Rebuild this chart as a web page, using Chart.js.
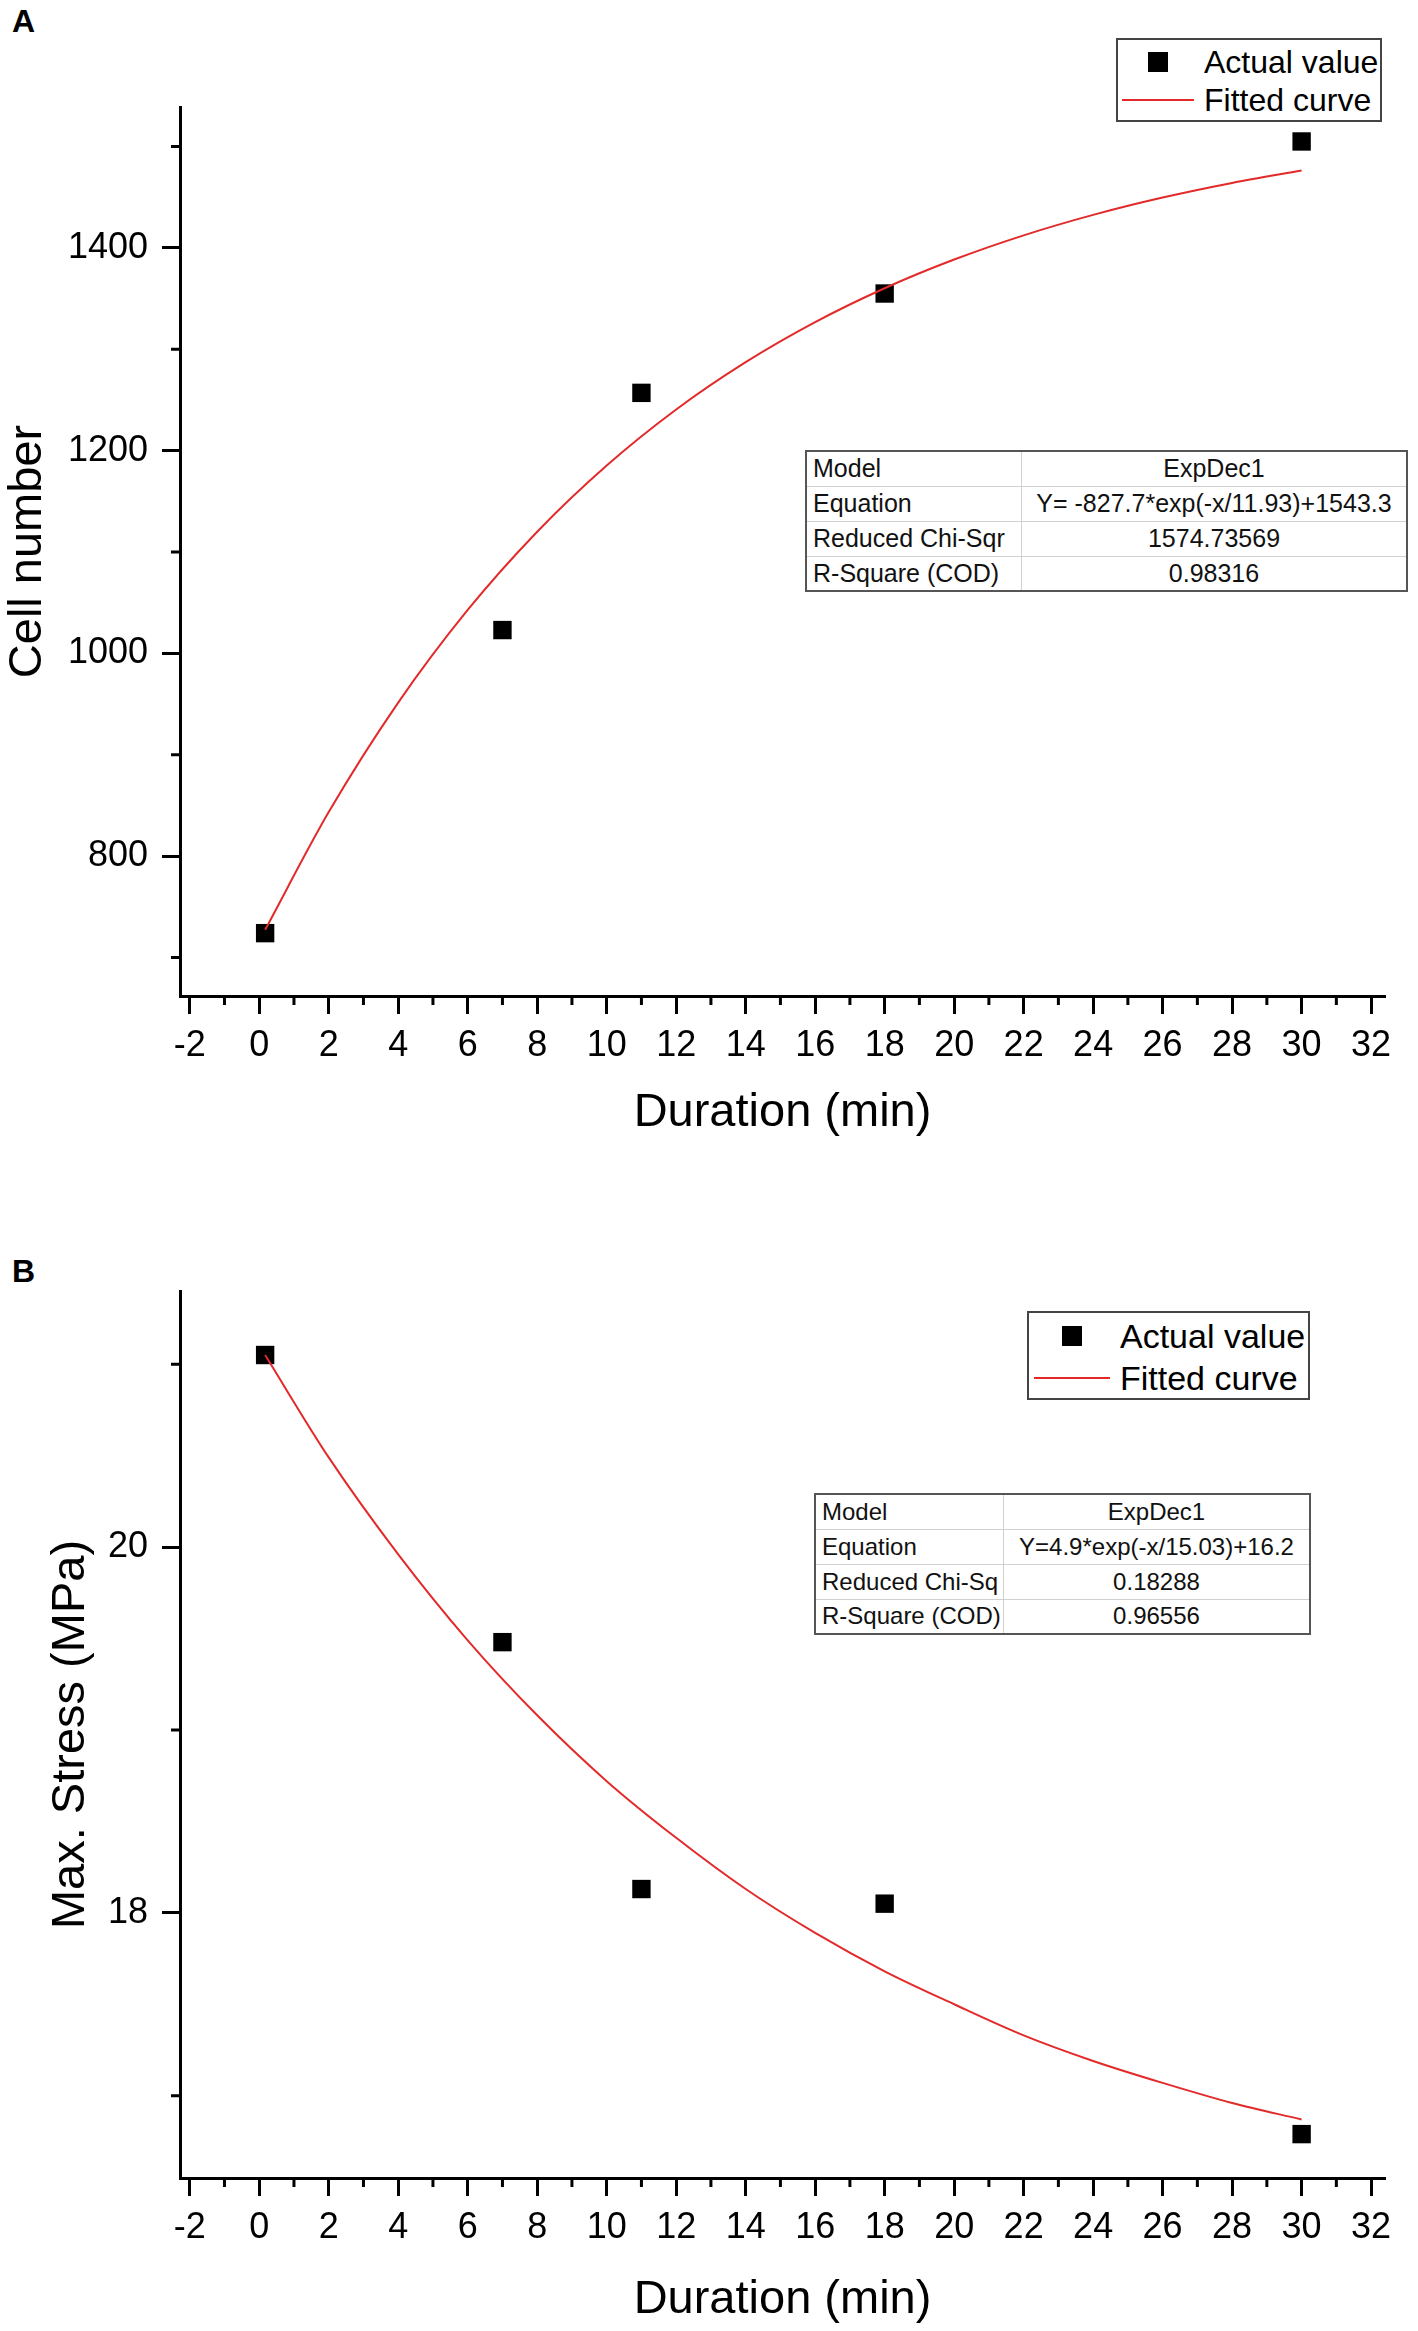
<!DOCTYPE html>
<html>
<head>
<meta charset="utf-8">
<script src="https://cdn.jsdelivr.net/npm/chart.js@4.4.1/dist/chart.umd.min.js"></script>
<style>
  body { margin: 0; background: #fff; font-family: "Liberation Sans", Arial, sans-serif; }
  #page { position: relative; width: 1418px; height: 2331px; overflow: hidden; }
  .panel { position: absolute; left: 0; width: 1418px; }
  .tag { position: absolute; font-weight: bold; font-size: 32px; color: #000; }
  .legend { position: absolute; border: 2px solid #444; background: #fff; box-sizing: border-box; }
  .legend .sym { position: absolute; }
  .legend .txt { position: absolute; color: #000; white-space: nowrap; line-height: 1; }
  table.fit { position: absolute; border-collapse: collapse; border: 2px solid #555; background: #fff; table-layout: fixed; }
  table.fit td { border: 1px solid #d0d0d0; padding: 0 6px; white-space: nowrap; color: #111; overflow: hidden; }
  table.fit td.v { text-align: center; }
</style>
</head>
<body>
<div id="page">
  <div class="tag" style="left:12px;top:3px">A</div>
  <div class="panel" style="top:0;height:1180px"><canvas id="chartA"></canvas></div>
  <div class="tag" style="left:12px;top:1253px">B</div>
  <div class="panel" style="top:1180px;height:1151px"><canvas id="chartB"></canvas></div>
</div>
<script>
// duration axis (min)
const xTickLabels = [-2, 0, 2, 4, 6, 8, 10, 12, 14, 16, 18, 20, 22, 24, 26, 28, 30, 32];
const xMinorTicks = [-1, 1, 3, 5, 7, 9, 11, 13, 15, 17, 19, 21, 23, 25, 27, 29, 31];

// A: cell number
const durationA = [0.17, 7, 11, 18, 30];
const cellNumber = [724, 1023, 1257, 1355, 1505];
const fitDurationA = [0.17, 2, 4, 6, 8, 10, 12, 14, 16, 18, 20, 22, 24, 26, 28, 30];
const fitCellNumber = [727.3, 843.4, 951.4, 1042.8, 1120.0, 1185.3, 1240.6, 1287.3, 1326.8, 1360.2, 1388.5, 1412.4, 1432.6, 1449.7, 1464.1, 1476.3];
const yTicksA = [800, 1000, 1200, 1400];
const yMinorA = [700, 900, 1100, 1300, 1500];
const fitRowsA = [
  ['Model', 'ExpDec1'],
  ['Equation', 'Y= -827.7*exp(-x/11.93)+1543.3'],
  ['Reduced Chi-Sqr', '1574.73569'],
  ['R-Square (COD)', '0.98316'],
];

// B: max. stress
const durationB = [0.17, 7, 11, 18, 30];
const maxStress = [21.05, 19.48, 18.13, 18.05, 16.79];
const fitDurationB = [0.17, 2, 4, 6, 8, 10, 12, 14, 16, 18, 20, 22, 24, 26, 28, 30];
const fitMaxStress = [21.05, 20.49, 19.96, 19.49, 19.08, 18.72, 18.41, 18.13, 17.89, 17.68, 17.50, 17.33, 17.19, 17.07, 16.96, 16.87];
const yTicksB = [18, 20];
const yMinorB = [17, 19, 21];
const fitRowsB = [
  ['Model', 'ExpDec1'],
  ['Equation', 'Y=4.9*exp(-x/15.03)+16.2'],
  ['Reduced Chi-Sq', '0.18288'],
  ['R-Square (COD)', '0.96556'],
];

const seriesLabels = ['Actual value', 'Fitted curve'];
const RED = '#e32a2a';
const FONT = '"Liberation Sans", Arial, sans-serif';

// short ticks between the labelled ones
const minorTicks = {
  id: 'minorTicks',
  afterDraw(chart, args, opts) {
    const ctx = chart.ctx, a = chart.chartArea;
    const xs = chart.scales.x, ys = chart.scales.y;
    ctx.save();
    ctx.strokeStyle = '#000';
    ctx.lineWidth = 3;
    ctx.beginPath();
    opts.x.forEach(v => {
      const p = xs.getPixelForValue(v);
      ctx.moveTo(p, a.bottom);
      ctx.lineTo(p, a.bottom + 9);
    });
    opts.y.forEach(v => {
      const p = ys.getPixelForValue(v);
      ctx.moveTo(a.left - 9, p);
      ctx.lineTo(a.left, p);
    });
    ctx.stroke();
    ctx.restore();
  }
};

function pts(xs, ys) {
  return xs.map((x, i) => ({ x: x, y: ys[i] }));
}

function makeChart(id, cfg) {
  new Chart(document.getElementById(id), {
    type: 'scatter',
    data: {
      datasets: [
        {
          label: seriesLabels[1],
          data: pts(cfg.fitX, cfg.fitY),
          showLine: true,
          borderColor: RED,
          borderWidth: 2,
          pointRadius: 0,
          cubicInterpolationMode: 'monotone',
        },
        {
          label: seriesLabels[0],
          data: pts(cfg.x, cfg.y),
          pointStyle: 'rect',
          pointRadius: 13,
          pointHoverRadius: 13,
          backgroundColor: '#000',
          borderColor: '#000',
          borderWidth: 0,
        },
      ],
    },
    options: {
      responsive: true,
      maintainAspectRatio: false,
      animation: false,
      layout: { padding: cfg.padding },
      plugins: {
        legend: { display: false },
        tooltip: { enabled: false },
        minorTicks: { x: xMinorTicks, y: cfg.yMinor },
      },
      scales: {
        x: {
          type: 'linear',
          min: -2.28,
          max: 32.4,
          afterBuildTicks: s => { s.ticks = xTickLabels.map(v => ({ value: v })); },
          afterFit: s => { s.height = cfg.xHeight; },
          border: { display: true, color: '#000', width: 3 },
          grid: { drawOnChartArea: false, tickLength: 18, tickWidth: 3, tickColor: '#000' },
          ticks: {
            autoSkip: false, maxRotation: 0, padding: 10, color: '#000',
            font: { family: FONT, size: 36 },
            callback: v => String(v),
          },
          title: {
            display: true, text: 'Duration (min)', color: '#000', padding: 0,
            font: { family: FONT, size: 47 },
          },
        },
        y: {
          type: 'linear',
          min: cfg.yMin,
          max: cfg.yMax,
          afterBuildTicks: s => { s.ticks = cfg.yTicks.map(v => ({ value: v })); },
          afterFit: s => { s.width = cfg.yWidth; },
          border: { display: true, color: '#000', width: 3 },
          grid: { drawOnChartArea: false, tickLength: 18, tickWidth: 3, tickColor: '#000' },
          ticks: {
            padding: 14, color: '#000',
            font: { family: FONT, size: 36 },
            callback: v => String(v),
          },
          title: {
            display: true, text: cfg.yTitle, color: '#000', padding: 0,
            font: { family: FONT, size: 47 },
          },
        },
      },
    },
    plugins: [minorTicks],
  });
}

makeChart('chartA', {
  x: durationA, y: cellNumber, fitX: fitDurationA, fitY: fitCellNumber,
  yMin: 662, yMax: 1539, yTicks: yTicksA, yMinor: yMinorA, yTitle: 'Cell number',
  padding: { left: 0, right: 33, top: 107, bottom: 39 },
  xHeight: 145, yWidth: 180,
});

makeChart('chartB', {
  x: durationB, y: maxStress, fitX: fitDurationB, fitY: fitMaxStress,
  yMin: 16.55, yMax: 21.4, yTicks: yTicksB, yMinor: yMinorB, yTitle: 'Max. Stress (MPa)',
  padding: { left: 43, right: 33, top: 111, bottom: 3 },
  xHeight: 150, yWidth: 137,
});

// legend boxes
function addLegend(box) {
  const el = document.createElement('div');
  el.className = 'legend';
  Object.assign(el.style, { left: box.left + 'px', top: box.top + 'px', width: box.w + 'px', height: box.h + 'px' });
  const sq = document.createElement('div');
  sq.className = 'sym';
  Object.assign(sq.style, { left: (box.sqX - 10) + 'px', top: (box.row1 - 10) + 'px', width: '20px', height: '20px', background: '#000' });
  const ln = document.createElement('div');
  ln.className = 'sym';
  Object.assign(ln.style, { left: box.lnX0 + 'px', top: (box.row2 - 1) + 'px', width: (box.lnX1 - box.lnX0) + 'px', height: '2px', background: RED });
  el.appendChild(sq);
  el.appendChild(ln);
  [box.row1, box.row2].forEach((r, i) => {
    const t = document.createElement('div');
    t.className = 'txt';
    t.textContent = seriesLabels[i];
    Object.assign(t.style, { left: box.txtX + 'px', top: (r - box.font * 0.5) + 'px', fontSize: box.font + 'px', height: box.font + 'px' });
    el.appendChild(t);
  });
  document.getElementById('page').appendChild(el);
}

addLegend({ left: 1116, top: 38, w: 266, h: 84, sqX: 40, row1: 22, row2: 60, lnX0: 4, lnX1: 76, txtX: 86, font: 32 });
addLegend({ left: 1027, top: 1311, w: 283, h: 89, sqX: 43, row1: 23, row2: 65, lnX0: 5, lnX1: 81, txtX: 91, font: 34 });

// fit parameter tables
function addTable(rows, t) {
  const tb = document.createElement('table');
  tb.className = 'fit';
  Object.assign(tb.style, { left: t.left + 'px', top: t.top + 'px', width: t.w + 'px', fontSize: t.font + 'px' });
  rows.forEach(r => {
    const tr = document.createElement('tr');
    tr.style.height = t.rowH + 'px';
    r.forEach((c, i) => {
      const td = document.createElement('td');
      td.textContent = c;
      if (i === 0) td.style.width = t.c1 + 'px';
      else td.className = 'v';
      tr.appendChild(td);
    });
    tb.appendChild(tr);
  });
  document.getElementById('page').appendChild(tb);
}

addTable(fitRowsA, { left: 805, top: 450, w: 603, c1: 202, rowH: 35, font: 25 });
addTable(fitRowsB, { left: 814, top: 1493, w: 497, c1: 175, rowH: 35, font: 24 });
</script>
</body>
</html>
